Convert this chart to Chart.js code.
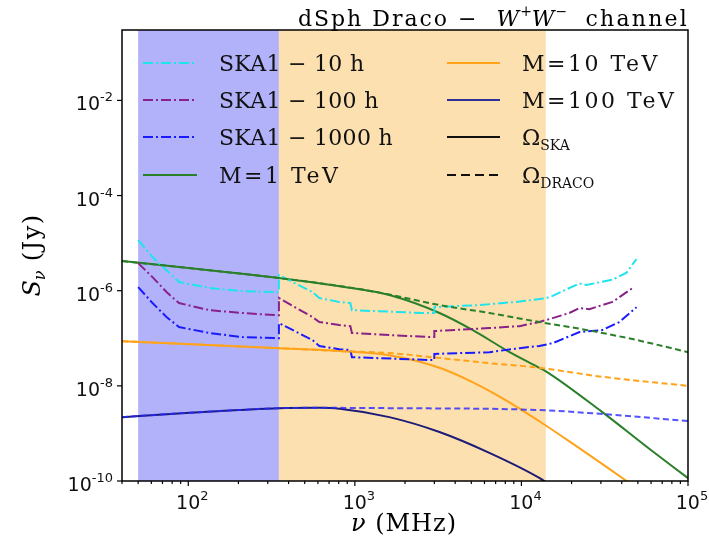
<!DOCTYPE html>
<html>
<head>
<meta charset="utf-8">
<script src="https://cdn.jsdelivr.net/npm/chart.js@4.4.1/dist/chart.umd.min.js"></script>
<style>
  html, body { margin: 0; padding: 0; background: #ffffff; }
  canvas { display: block; }
</style>
</head>
<body>
<canvas id="c" width="709" height="545"></canvas>
<script>
// ---- Frequencies (MHz) and flux densities (Jy) ----

// SKA1 sensitivity curves (dash-dot)
const freqSka10h   = [50, 61, 74, 88, 134, 211, 329, 350, 350, 556, 612, 807, 940, 960, 2540, 3000, 3000, 5600, 9730, 14100, 15400, 19000, 22300, 24500, 35200, 42800, 47500, 49100];
const fluxSka10h   = [1.16e-5, 5.1e-6, 2.7e-6, 1.52e-6, 1.14e-6, 9.8e-7, 9.4e-7, 9.3e-7, 2.13e-6, 9.4e-7, 7.0e-7, 5.8e-7, 5.5e-7, 3.9e-7, 3.4e-7, 3.4e-7, 4.5e-7, 5.0e-7, 5.9e-7, 7.0e-7, 7.8e-7, 1.1e-6, 1.42e-6, 1.32e-6, 1.7e-6, 2.4e-6, 4.0e-6, 4.6e-6];

const freqSka100h  = [50, 61, 74, 88, 134, 211, 329, 350, 350, 556, 612, 807, 940, 960, 2800, 3000, 3000, 6420, 9730, 12800, 15400, 19400, 22300, 25600, 35200, 44600, 46500];
const fluxSka100h  = [3.8e-6, 1.93e-6, 9.4e-7, 5.5e-7, 3.9e-7, 3.4e-7, 3.07e-7, 3.05e-7, 7.0e-7, 2.8e-7, 2.2e-7, 1.9e-7, 1.8e-7, 1.29e-7, 1.06e-7, 1.06e-7, 1.42e-7, 1.64e-7, 1.8e-7, 2.2e-7, 2.65e-7, 3.4e-7, 4.3e-7, 4.1e-7, 5.8e-7, 1.03e-6, 1.13e-6];

const freqSka1000h = [50, 61, 74, 88, 134, 211, 329, 350, 350, 556, 612, 807, 940, 960, 2800, 3000, 3000, 6420, 9730, 12800, 15400, 22300, 30600, 38800, 49100];
const fluxSka1000h = [1.19e-6, 5.5e-7, 2.8e-7, 1.72e-7, 1.29e-7, 1.06e-7, 1.01e-7, 1.0e-7, 2.08e-7, 9.2e-8, 6.9e-8, 5.9e-8, 5.7e-8, 4.0e-8, 3.5e-8, 3.5e-8, 4.7e-8, 5.1e-8, 6.2e-8, 6.9e-8, 7.9e-8, 1.35e-7, 1.49e-7, 2.2e-7, 4.5e-7];

// Dark-matter signal, M = 1 TeV
const freqM1Ska    = [40, 100, 350, 1000, 1610, 3220, 5080, 8130, 12800, 14100, 30600, 58800, 100000];
const fluxM1Ska    = [4.2e-6, 3.0e-6, 1.85e-6, 1.11e-6, 8.1e-7, 3.4e-7, 1.5e-7, 5.6e-8, 2.4e-8, 2.0e-8, 2.8e-9, 4.7e-10, 1.15e-10];
const freqM1Draco  = [40, 100, 350, 1000, 1610, 3220, 6420, 12800, 24500, 49100, 100000];
const fluxM1Draco  = [4.2e-6, 3.0e-6, 1.85e-6, 1.12e-6, 8.3e-7, 5.0e-7, 3.4e-7, 2.2e-7, 1.5e-7, 9.2e-8, 5.1e-8];

// M = 10 TeV
const freqM10Ska   = [40, 350, 810, 1610, 3220, 5080, 8130, 12800, 19400, 42800, 50000];
const fluxM10Ska   = [8.7e-8, 6.2e-8, 5.4e-8, 4.4e-8, 2.4e-8, 1.2e-8, 4.9e-9, 1.8e-9, 6.8e-10, 1.0e-10, 6.8e-11];
const freqM10Draco = [40, 350, 810, 1610, 3220, 6420, 12800, 30600, 100000];
const fluxM10Draco = [8.7e-8, 6.2e-8, 5.4e-8, 4.9e-8, 3.85e-8, 3.0e-8, 2.4e-8, 1.55e-8, 1.0e-8];

// M = 100 TeV
const freqM100Ska   = [40, 97, 200, 350, 610, 810, 1610, 3220, 6420, 12800, 15000];
const fluxM100Ska   = [2.2e-9, 2.7e-9, 3.1e-9, 3.4e-9, 3.45e-9, 3.3e-9, 2.2e-9, 1.07e-9, 3.9e-10, 1.16e-10, 8e-11];
const freqM100Draco = [40, 97, 200, 350, 610, 1610, 12800, 30600, 100000];
const fluxM100Draco = [2.2e-9, 2.7e-9, 3.1e-9, 3.4e-9, 3.45e-9, 3.4e-9, 3.1e-9, 2.56e-9, 1.82e-9];

// SKA1-low and SKA1-mid frequency bands (MHz)
const bandLow = [50, 350];
const bandMid = [350, 14000];

// Axis ticks
const xMajorTicks = [100, 1000, 10000, 100000];
const xTickExps   = ['2', '3', '4', '5'];
const yMajorTicks = [1e-2, 1e-4, 1e-6, 1e-8, 1e-10];
const yTickExps   = ['-2', '-4', '-6', '-8', '-10'];

// ---- Styling ----
const C = {
  cyan: '#1ee4ee', purple: '#882288', blue: '#1a1aff',
  green: '#2a7f2a', orange: '#ffa31a', navy: '#1c1c78', blueDash: 'rgba(40,40,255,0.8)'
};
const DASHDOT = [10, 3, 2, 3];
const DASH = [6, 3.5];
const SERIF = '"DejaVu Serif", serif';
const SANS = '"DejaVu Sans", sans-serif';

const pts = (f, s) => f.map((v, i) => ({ x: v, y: s[i] }));

function line(label, f, s, color, dash, smooth) {
  return {
    label, data: pts(f, s), borderColor: color, backgroundColor: color,
    borderWidth: 2, borderDash: dash || [], pointRadius: 0, fill: false,
    tension: 0, cubicInterpolationMode: smooth ? 'monotone' : 'default'
  };
}

// Draw a sequence of text runs with their own fonts, offsets and letter spacing
function drawRuns(ctx, runs, x, y, align) {
  const measure = r => {
    ctx.font = r.font;
    ctx.letterSpacing = (r.ls || 0) + 'px';
    return ctx.measureText(r.t).width;
  };
  let w = 0;
  runs.forEach(r => { w += measure(r); });
  let cx = align === 'right' ? x - w : align === 'center' ? x - w / 2 : x;
  ctx.textBaseline = 'alphabetic';
  ctx.textAlign = 'left';
  runs.forEach(r => {
    const rw = measure(r);
    ctx.fillText(r.t, cx, y + (r.dy || 0));
    cx += rw;
  });
  ctx.letterSpacing = '0px';
  return w;
}

const bandsPlugin = {
  id: 'bands',
  beforeDatasetsDraw(chart) {
    const { ctx, chartArea: a, scales: { x } } = chart;
    ctx.save();
    ctx.fillStyle = '#b2b2fb';
    ctx.fillRect(x.getPixelForValue(bandLow[0]), a.top, x.getPixelForValue(bandLow[1]) - x.getPixelForValue(bandLow[0]), a.bottom - a.top);
    ctx.fillStyle = '#fde0b0';
    ctx.fillRect(x.getPixelForValue(bandMid[0]), a.top, x.getPixelForValue(bandMid[1]) - x.getPixelForValue(bandMid[0]), a.bottom - a.top);
    ctx.restore();
  }
};

const decorPlugin = {
  id: 'decor',
  afterDraw(chart) {
    const { ctx, chartArea: a, scales: { x, y } } = chart;
    ctx.save();
    ctx.fillStyle = '#111';
    ctx.strokeStyle = '#000';

    // frame
    ctx.lineWidth = 1.5;
    ctx.strokeRect(a.left, a.top, a.right - a.left, a.bottom - a.top);

    // x ticks (major + minor)
    ctx.lineWidth = 1.2;
    for (let d = 1; d <= 4; d++) {
      for (let m = 1; m <= 9; m++) {
        const v = m * Math.pow(10, d);
        if (v < x.min || v > x.max) continue;
        const px = x.getPixelForValue(v);
        const len = m === 1 ? 5 : 3;
        ctx.beginPath(); ctx.moveTo(px, a.bottom); ctx.lineTo(px, a.bottom + len); ctx.stroke();
      }
    }
    { const px = x.getPixelForValue(1e5); ctx.beginPath(); ctx.moveTo(px, a.bottom); ctx.lineTo(px, a.bottom + 5); ctx.stroke(); }
    xMajorTicks.forEach((v, i) => {
      const px = x.getPixelForValue(v);
      drawRuns(ctx, [
        { t: '10', font: '19px ' + SANS },
        { t: xTickExps[i], font: '13px ' + SANS, dy: -9 }
      ], px + 4, a.bottom + 28, 'center');
    });

    // y ticks
    yMajorTicks.forEach((v, i) => {
      const py = y.getPixelForValue(v);
      ctx.beginPath(); ctx.moveTo(a.left - 5, py); ctx.lineTo(a.left, py); ctx.stroke();
      drawRuns(ctx, [
        { t: '10', font: '19px ' + SANS },
        { t: yTickExps[i], font: '13px ' + SANS, dy: -9 }
      ], a.left - 9, py + 10, 'right');
    });

    // axis titles
    ctx.fillStyle = '#000';
    drawRuns(ctx, [
      { t: 'ν', font: 'italic 24px ' + SERIF, ls: 1 },
      { t: ' (MHz)', font: '24px ' + SERIF, ls: 1 }
    ], 404, 531, 'center');

    ctx.save();
    ctx.translate(40, 255);
    ctx.rotate(-Math.PI / 2);
    drawRuns(ctx, [
      { t: 'S', font: 'italic 24px ' + SERIF },
      { t: 'ν', font: 'italic 16px ' + SERIF, dy: 5 },
      { t: ' (Jy)', font: '24px ' + SERIF, ls: 1.5 }
    ], 0, 0, 'center');
    ctx.restore();

    // title
    drawRuns(ctx, [
      { t: 'dSph Draco −  ', font: '22px ' + SERIF, ls: 2 },
      { t: 'W', font: 'italic 22px ' + SERIF, ls: 1 },
      { t: '+', font: '14px ' + SERIF, dy: -10 },
      { t: 'W', font: 'italic 22px ' + SERIF, ls: 1 },
      { t: '−', font: '14px ' + SERIF, dy: -10 },
      { t: '  channel', font: '22px ' + SERIF, ls: 2.2 }
    ], 689, 26, 'right');

    // legend
    const rows = [63, 100, 137, 175];
    const F = '22px ' + SERIF;
    const legL = [
      { c: C.cyan, d: DASHDOT, runs: [{ t: 'SKA1 − 10 h', font: F, ls: 0.3 }] },
      { c: C.purple, d: DASHDOT, runs: [{ t: 'SKA1 − 100 h', font: F, ls: 0.3 }] },
      { c: C.blue, d: DASHDOT, runs: [{ t: 'SKA1 − 1000 h', font: F, ls: 0.3 }] },
      { c: C.green, d: [], runs: [{ t: 'M=1 TeV', font: F, ls: 2.5 }] }
    ];
    const legR = [
      { c: C.orange, d: [], runs: [{ t: 'M=10 TeV', font: F, ls: 2.5 }] },
      { c: '#30309a', d: [], runs: [{ t: 'M=100 TeV', font: F, ls: 2.5 }] },
      { c: '#111', d: [], runs: [{ t: 'Ω', font: F }, { t: 'SKA', font: '14px ' + SERIF, dy: 5 }] },
      { c: '#111', d: [9, 5], runs: [{ t: 'Ω', font: F }, { t: 'DRACO', font: '14px ' + SERIF, dy: 5 }] }
    ];
    const drawLeg = (items, x0, x1, tx) => {
      items.forEach((it, i) => {
        const yy = rows[i];
        ctx.strokeStyle = it.c;
        ctx.lineWidth = 2;
        ctx.setLineDash(it.d);
        ctx.beginPath(); ctx.moveTo(x0, yy); ctx.lineTo(x1, yy); ctx.stroke();
        ctx.setLineDash([]);
        ctx.fillStyle = '#111';
        drawRuns(ctx, it.runs, tx, yy + 8, 'left');
      });
    };
    drawLeg(legL, 143, 197, 219);
    drawLeg(legR, 447, 500, 522);

    ctx.restore();
  }
};

new Chart(document.getElementById('c'), {
  type: 'line',
  data: {
    datasets: [
      line('M=1 TeV Ω_DRACO', freqM1Draco, fluxM1Draco, C.green, DASH, true),
      line('M=10 TeV Ω_DRACO', freqM10Draco, fluxM10Draco, C.orange, DASH, true),
      line('M=100 TeV Ω_DRACO', freqM100Draco, fluxM100Draco, C.blueDash, DASH, true),
      line('SKA1 − 10 h', freqSka10h, fluxSka10h, C.cyan, DASHDOT, false),
      line('SKA1 − 100 h', freqSka100h, fluxSka100h, C.purple, DASHDOT, false),
      line('SKA1 − 1000 h', freqSka1000h, fluxSka1000h, C.blue, DASHDOT, false),
      line('M=1 TeV Ω_SKA', freqM1Ska, fluxM1Ska, C.green, [], true),
      line('M=10 TeV Ω_SKA', freqM10Ska, fluxM10Ska, C.orange, [], true),
      line('M=100 TeV Ω_SKA', freqM100Ska, fluxM100Ska, C.navy, [], true)
    ]
  },
  options: {
    responsive: false,
    animation: false,
    devicePixelRatio: 1,
    layout: { padding: { left: 122, top: 30, right: 21, bottom: 64 } },
    scales: {
      x: { type: 'logarithmic', min: 40, max: 100000, display: false },
      y: { type: 'logarithmic', min: 1e-10, max: Math.pow(10, -0.52), display: false }
    },
    plugins: { legend: { display: false }, tooltip: { enabled: false }, title: { display: false } }
  },
  plugins: [bandsPlugin, decorPlugin]
});
</script>
</body>
</html>
